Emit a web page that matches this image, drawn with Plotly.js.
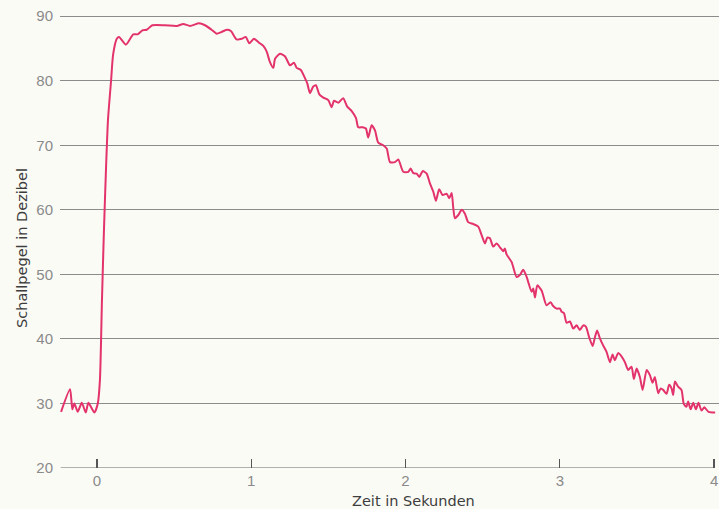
<!DOCTYPE html>
<html>
<head>
<meta charset="utf-8">
<script src="https://cdn.plot.ly/plotly-3.0.1.min.js"></script>
<style>html,body{margin:0;padding:0;background:#fbfbf6;}</style>
</head>
<body>
<div id="chart" style="width:719px;height:509px;"></div>
<script>
// Zeit in Sekunden
const timeSec = [-0.233,-0.175,-0.160,-0.147,-0.125,-0.099,-0.073,-0.056,-0.017,0.005,
0.019,0.032,0.045,0.058,0.071,0.091,0.104,0.128,0.143,0.188,0.235,0.264,0.294,0.322,0.358,
0.441,0.517,0.559,0.603,0.661,0.700,0.743,0.776,0.802,0.841,0.868,0.905,0.938,0.964,0.987,
1.017,1.050,1.078,1.100,1.121,1.143,1.154,1.186,1.218,1.251,1.277,1.294,1.320,1.348,1.363,
1.380,1.402,1.419,1.441,1.467,1.499,1.521,1.536,1.564,1.596,1.622,1.651,1.679,1.693,1.722,
1.743,1.758,1.780,1.802,1.823,1.855,1.878,1.899,1.931,1.953,1.985,2.018,2.033,2.050,2.072,
2.089,2.111,2.137,2.158,2.180,2.197,2.218,2.240,2.266,2.283,2.299,2.309,2.320,2.342,2.364,
2.385,2.406,2.439,2.471,2.493,2.515,2.530,2.547,2.568,2.590,2.612,2.633,2.644,2.655,2.688,
2.720,2.741,2.763,2.785,2.817,2.828,2.839,2.854,2.882,2.914,2.940,2.957,2.979,3.001,3.012,
3.027,3.044,3.066,3.087,3.109,3.130,3.152,3.169,3.191,3.213,3.228,3.242,3.260,3.281,3.303,
3.325,3.342,3.357,3.378,3.400,3.422,3.443,3.465,3.480,3.498,3.519,3.537,3.563,3.584,3.601,
3.616,3.638,3.653,3.670,3.692,3.709,3.725,3.735,3.746,3.767,3.789,3.804,3.821,3.832,3.848,
3.865,3.882,3.899,3.919,3.937,3.964,4.007];
// Schallpegel in Dezibel
const levelDb = [28.7,32.2,29.1,30.0,28.7,30.1,28.6,30.1,28.6,30.0,
33.7,46.0,56.9,66.2,73.9,80.0,84.0,86.5,86.8,85.6,87.2,87.2,87.8,87.9,88.6,
88.6,88.5,88.8,88.5,88.9,88.6,87.9,87.3,87.5,87.9,87.7,86.4,86.5,86.8,85.8,
86.5,85.9,85.4,84.5,82.9,82.0,83.4,84.2,83.8,82.4,82.8,82.0,81.7,80.4,79.6,
78.1,79.1,79.3,77.9,77.4,77.0,75.9,76.9,76.6,77.3,76.0,75.3,74.2,72.8,72.8,
72.6,71.2,73.1,72.3,70.4,70.0,69.5,67.4,67.4,67.8,65.9,65.9,66.4,65.7,65.6,
65.1,66.0,65.6,64.1,62.8,61.4,63.2,62.3,62.5,61.8,62.6,60.4,58.7,59.2,60.0,
59.4,58.1,57.8,57.4,56.1,54.8,55.7,55.6,54.3,54.8,54.2,53.6,54.0,53.1,51.9,
49.6,49.9,50.7,49.6,47.3,47.8,46.4,48.3,47.5,45.2,45.7,45.1,44.7,44.7,44.2,
44.0,42.5,42.7,41.6,42.1,41.4,42.1,41.9,40.2,38.9,40.3,41.3,40.1,39.0,38.0,
36.4,37.6,36.7,37.8,37.3,36.4,35.2,35.7,33.8,35.4,34.1,32.1,35.2,34.4,33.2,
34.1,31.6,32.3,32.1,31.5,32.9,32.3,31.3,33.4,32.6,32.1,29.9,29.5,30.3,29.1,
30.1,29.1,30.1,28.9,29.4,28.7,28.6];
const xTicks = [0, 1, 2, 3, 4];
const xTickLabels = ['0', '1', '2', '3', '4'];
const yTicks = [20, 30, 40, 50, 60, 70, 80, 90];
const yTickLabels = ['20', '30', '40', '50', '60', '70', '80', '90'];
const xTitle = 'Zeit in Sekunden';
const yTitle = 'Schallpegel in Dezibel';

const trace = {
  x: timeSec, y: levelDb, type: 'scatter', mode: 'lines',
  line: {color: '#e3336c', width: 2, shape: 'spline', smoothing: 0.6},
  hoverinfo: 'skip'
};

const layout = {
  width: 719, height: 509,
  margin: {l: 60, r: 0, t: 13, b: 41},
  paper_bgcolor: '#fbfbf6', plot_bgcolor: '#fbfbf6',
  showlegend: false,
  font: {family: 'Liberation Sans, Arial, sans-serif', color: '#8f8f8f', size: 15},
  xaxis: {
    range: [-0.240, 4.032], tickvals: xTicks, ticktext: xTickLabels,
    showgrid: false, zeroline: false, showline: false,
    ticks: 'inside', ticklen: 9, tickwidth: 1.2, tickcolor: '#555',
    ticklabelstandoff: 2,
    tickfont: {size: 15, color: '#8a8a8a'}
  },
  yaxis: {
    range: [20, 90.5], tickvals: yTicks, ticktext: yTickLabels,
    showgrid: true, gridcolor: '#8c8c8c', gridwidth: 1,
    zeroline: false, showline: false, ticks: '',
    ticklabelstandoff: 6,
    tickfont: {size: 15, color: '#8a8a8a'}
  },
  shapes: [
    {type: 'line', xref: 'x', yref: 'y', x0: -0.235, x1: 4.0, y0: 20, y1: 20,
     line: {color: '#666', width: 1.2}, layer: 'below'}
  ],
  annotations: [
    {text: xTitle, xref: 'paper', yref: 'paper', x: 0.536, y: -0.0725,
     xanchor: 'center', yanchor: 'middle', showarrow: false,
     font: {family: 'DejaVu Sans, sans-serif', size: 14.5, color: '#3d3d3d'}},
    {text: yTitle, xref: 'paper', yref: 'paper', x: -0.0577, y: 0.4835,
     xanchor: 'center', yanchor: 'middle', textangle: -90, showarrow: false,
     font: {family: 'DejaVu Sans, sans-serif', size: 14.5, color: '#3d3d3d'}}
  ]
};

Plotly.newPlot('chart', [trace], layout, {staticPlot: true, displayModeBar: false});
</script>
</body>
</html>
